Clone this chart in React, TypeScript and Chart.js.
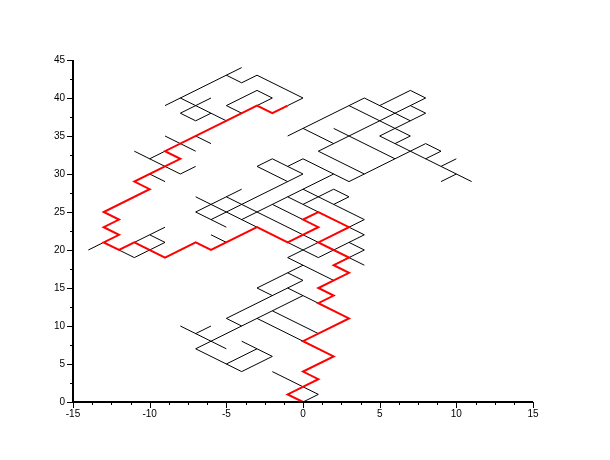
import React, { useEffect, useRef } from "react";
import { Chart, registerables } from "chart.js";

Chart.register(...registerables);

type Pt = [number, number];

// axis ranges and ticks
const xRange: Pt = [-15, 15];
const yRange: Pt = [0, 45];
const xMajorStep = 5;
const yMajorStep = 5;
const xMinorStep = 1.25;
const yMinorStep = 2.5;

// red path (main branch)
const redPath: Pt[] = [
  [0, 0], [-1, 1], [1, 3], [0, 4], [2, 6], [0, 8], [3, 11], [1, 13], [2, 14], [1, 15],
  [3, 17], [2, 18], [3, 19], [1, 21], [3, 23], [1, 25], [0, 24], [1, 23], [-1, 21],
  [-3, 23], [-6, 20], [-7, 21], [-9, 19], [-11, 21], [-12, 20], [-13, 21], [-12, 22],
  [-13, 23], [-12, 24], [-13, 25], [-10, 28], [-11, 29], [-9, 31], [-8, 32], [-9, 33],
  [-3, 39], [-2, 38], [-1, 39],
];

// black branches, grouped by area
const blackTopLeft: Pt[][] = [
  [[-9, 39], [-4, 44]],
  [[-8, 40], [-5, 37]],
  [[-8, 38], [-6, 40]],
  [[-8, 38], [-7, 37], [-6, 38]],
  [[-5, 43], [-4, 42], [-3, 43], [0, 40], [-1, 39]],
  [[-4, 38], [-5, 39], [-3, 41], [-2, 40], [-3, 39]],
  [[-9, 35], [-7, 33]],
  [[-7, 35], [-6, 34]],
  [[-11, 33], [-8, 30], [-7, 31]],
  [[-10, 32], [-9, 33]],
  [[-10, 30], [-9, 29]],
];

const blackTopRight: Pt[][] = [
  [[-1, 35], [4, 40], [7, 37]],
  [[5, 39], [7, 41], [8, 40], [1, 33], [4, 30]],
  [[0, 36], [2, 34]],
  [[7, 39], [8, 38], [5, 35], [11, 29]],
  [[3, 39], [7, 35], [6, 34]],
  [[2, 36], [6, 32]],
  [[0, 32], [3, 29], [8, 34], [9, 33], [8, 32]],
  [[9, 31], [10, 32]],
  [[9, 29], [10, 30]],
];

const blackCenter: Pt[][] = [
  [[-3, 31], [-2, 32], [0, 30]],
  [[-3, 31], [-1, 29]],
  [[-1, 31], [0, 32]],
  [[-7, 25], [-4, 28]],
  [[-6, 24], [0, 30]],
  [[-7, 27], [-3, 23]],
  [[-4, 24], [2, 30]],
  [[-5, 27], [1, 21]],
  [[-7, 25], [-5, 23]],
  [[-6, 22], [-5, 21]],
  [[0, 28], [4, 24], [3, 23]],
  [[0, 26], [2, 28], [3, 27], [2, 26]],
  [[-1, 27], [1, 25]],
  [[-2, 26], [0, 24]],
  [[3, 23], [4, 22], [1, 19]],
  [[3, 21], [4, 20], [2, 18]],
  [[3, 19], [4, 18]],
  [[-1, 21], [1, 19]],
  [[-1, 19], [1, 21]],
  [[-1, 19], [2, 16]],
  [[-3, 15], [0, 18]],
  [[-1, 17], [0, 16]],
  [[-3, 15], [-2, 14]],
];

const blackLeft: Pt[][] = [
  [[-14, 20], [-13, 21]],
  [[-12, 20], [-11, 19], [-9, 21], [-10, 22], [-11, 21]],
  [[-10, 22], [-9, 23]],
];

const blackBottom: Pt[][] = [
  [[-8, 10], [-5, 7]],
  [[-7, 9], [-6, 10]],
  [[-7, 7], [0, 14]],
  [[-5, 11], [-4, 10]],
  [[-5, 11], [0, 16]],
  [[-7, 7], [-4, 4], [-2, 6]],
  [[-4, 8], [-2, 6]],
  [[-5, 5], [-3, 7]],
  [[-3, 11], [0, 8]],
  [[-2, 12], [1, 9]],
  [[-1, 15], [1, 13]],
  [[-2, 4], [1, 1], [0, 0]],
];

const toXY = (p: Pt[]) => p.map(([x, y]) => ({ x, y }));

const axesPlugin = {
  id: "scilabAxes",
  afterDraw(chart: any) {
    const { ctx, chartArea } = chart;
    const xs = chart.scales.x;
    const ys = chart.scales.y;
    const L = Math.round(chartArea.left);
    const B = Math.round(chartArea.bottom);
    ctx.save();
    ctx.strokeStyle = "#000";
    ctx.lineWidth = 2;
    ctx.beginPath();
    ctx.moveTo(L, Math.round(chartArea.top));
    ctx.lineTo(L, B);
    ctx.lineTo(Math.round(chartArea.right), B);
    ctx.stroke();
    ctx.lineWidth = 1;
    ctx.beginPath();
    for (let v = xRange[0]; v <= xRange[1] + 1e-9; v += xMinorStep) {
      const px = Math.round(xs.getPixelForValue(v)) + 0.5;
      const major = Math.abs(v / xMajorStep - Math.round(v / xMajorStep)) < 1e-6;
      ctx.moveTo(px, B);
      ctx.lineTo(px, B + (major ? 6 : 3));
    }
    for (let v = yRange[0]; v <= yRange[1] + 1e-9; v += yMinorStep) {
      const py = Math.round(ys.getPixelForValue(v)) + 0.5;
      const major = Math.abs(v / yMajorStep - Math.round(v / yMajorStep)) < 1e-6;
      ctx.moveTo(L, py);
      ctx.lineTo(L - (major ? 6 : 3), py);
    }
    ctx.stroke();
    ctx.restore();
  },
};

export default function App() {
  const ref = useRef<HTMLCanvasElement | null>(null);

  useEffect(() => {
    if (!ref.current) return;
    const blacks = [...blackTopLeft, ...blackTopRight, ...blackCenter, ...blackLeft, ...blackBottom];
    const datasets: any[] = [
      {
        data: toXY(redPath),
        borderColor: "#ff0000",
        borderWidth: 2,
        pointRadius: 0,
        showLine: true,
        order: 0,
      },
      ...blacks.map((p) => ({
        data: toXY(p),
        borderColor: "#000000",
        borderWidth: 1,
        pointRadius: 0,
        showLine: true,
        order: 1,
      })),
    ];
    const chart = new Chart(ref.current, {
      type: "scatter",
      data: { datasets },
      options: {
        animation: false,
        responsive: false,
        events: [],
        layout: { padding: { left: 0, top: 52, right: 69, bottom: 20 } },
        plugins: { legend: { display: false }, tooltip: { enabled: false } },
        scales: {
          x: {
            type: "linear",
            min: xRange[0],
            max: xRange[1],
            grid: { display: false, drawTicks: false },
            border: { display: false },
            ticks: {
              stepSize: xMajorStep,
              color: "#000",
              font: { family: "Liberation Sans", size: 10 },
              padding: 6,
              maxRotation: 0,
              autoSkip: false,
            },
            afterFit: (s: any) => {
              s.height = 30;
            },
          },
          y: {
            type: "linear",
            min: yRange[0],
            max: yRange[1],
            grid: { display: false, drawTicks: false },
            border: { display: false },
            ticks: {
              stepSize: yMajorStep,
              color: "#000",
              font: { family: "Liberation Sans", size: 10 },
              padding: 8,
              autoSkip: false,
            },
            afterFit: (s: any) => {
              s.width = 65;
            },
          },
        },
      },
      plugins: [axesPlugin],
    });
    return () => chart.destroy();
  }, []);

  return (
    <div style={{ width: 594, height: 444 }}>
      <canvas ref={ref} width={594} height={444} />
    </div>
  );
}
